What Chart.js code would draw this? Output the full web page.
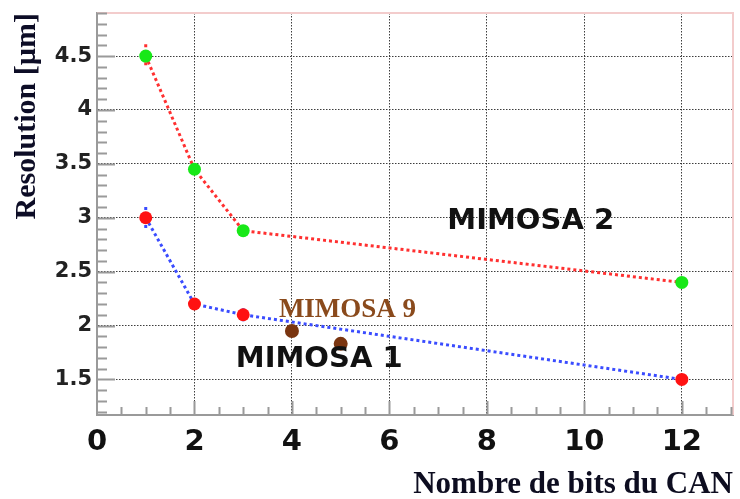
<!DOCTYPE html>
<html>
<head>
<meta charset="utf-8">
<script src="https://cdn.jsdelivr.net/npm/chart.js@4/dist/chart.umd.min.js"></script>
<style>
  html, body { margin: 0; padding: 0; background: #ffffff; }
  canvas { display: block; }
</style>
</head>
<body>
<canvas id="chart" width="740" height="499"></canvas>
<script>
// Spatial resolution versus ADC bit count
const bitsMimosa2 = [1, 2, 3, 12];
const resMimosa2  = [4.5, 3.45, 2.88, 2.4];
const errMimosa2  = [0.11, 0, 0.05, 0];

const bitsMimosa1 = [1, 2, 3, 12];
const resMimosa1  = [3.0, 2.2, 2.1, 1.5];
const errMimosa1  = [0.1, 0, 0.06, 0];

const bitsMimosa9 = [4, 5];
const resMimosa9  = [1.95, 1.83];

const seriesNames = ['MIMOSA 2', 'MIMOSA 1', 'MIMOSA 9'];

const xTickValues = [0, 2, 4, 6, 8, 10, 12];
const yTickValues = [1.5, 2, 2.5, 3, 3.5, 4, 4.5];

const xTitle = 'Nombre de bits du CAN';
const yTitle = 'Resolution [µm]';

// Text labels placed in data coordinates
const labelPlacement = [
  { name: seriesNames[0], x: 8.9,  y: 2.895, font: 'bold 29px "DejaVu Sans"', color: '#111111' },
  { name: seriesNames[1], x: 4.56, y: 1.62,  font: 'bold 29px "DejaVu Sans"', color: '#111111' },
  { name: seriesNames[2], x: 5.14, y: 2.08,  font: 'bold 27px "Liberation Serif"', color: '#8a4a1c' }
];

const toPoints = (xs, ys) => xs.map((x, i) => ({ x: x, y: ys[i] }));

const errorSets = [
  { xs: bitsMimosa2, ys: resMimosa2, errs: errMimosa2, color: '#ff3030' },
  { xs: bitsMimosa1, ys: resMimosa1, errs: errMimosa1, color: '#3a4cff' }
];

const decorations = {
  id: 'decorations',
  beforeDatasetsDraw(chart) {
    const ctx = chart.ctx;
    const area = chart.chartArea;
    const xs = chart.scales.x;
    const ys = chart.scales.y;
    ctx.save();

    // frame on top and right
    ctx.strokeStyle = '#f3cccc';
    ctx.lineWidth = 2;
    ctx.beginPath();
    ctx.moveTo(area.left, area.top);
    ctx.lineTo(area.right, area.top);
    ctx.lineTo(area.right, area.bottom);
    ctx.stroke();

    // inward tick marks
    ctx.strokeStyle = '#9a9a9a';
    ctx.lineWidth = 2;
    ctx.beginPath();
    for (let i = 12; i <= 49; i++) {
      const p = Math.round(ys.getPixelForValue(i / 10)) + 0.5;
      const len = (i % 5 === 0) ? 18 : 10;
      ctx.moveTo(area.left, p);
      ctx.lineTo(area.left + len, p);
    }
    for (let i = 1; i <= 26; i++) {
      const p = Math.round(xs.getPixelForValue(i / 2)) + 0.5;
      const len = (i % 4 === 0) ? 14 : 8;
      ctx.moveTo(p, area.bottom);
      ctx.lineTo(p, area.bottom - len);
    }
    ctx.stroke();

    // error bars
    ctx.lineWidth = 3;
    ctx.setLineDash([3, 3]);
    errorSets.forEach(set => {
      ctx.strokeStyle = set.color;
      set.errs.forEach((e, i) => {
        if (!e) return;
        const px = xs.getPixelForValue(set.xs[i]);
        ctx.beginPath();
        ctx.moveTo(px, ys.getPixelForValue(set.ys[i] + e));
        ctx.lineTo(px, ys.getPixelForValue(set.ys[i] - e));
        ctx.stroke();
      });
    });
    ctx.restore();
  },
  afterDatasetsDraw(chart) {
    const ctx = chart.ctx;
    const xs = chart.scales.x;
    const ys = chart.scales.y;
    ctx.save();
    ctx.textAlign = 'center';
    ctx.textBaseline = 'alphabetic';
    labelPlacement.forEach(l => {
      ctx.font = l.font;
      ctx.fillStyle = l.color;
      ctx.fillText(l.name, xs.getPixelForValue(l.x), ys.getPixelForValue(l.y));
    });
    ctx.restore();
  }
};

const gridStyle = { color: 'rgba(40,40,40,0.9)', lineWidth: 1, drawTicks: false };
const borderStyle = { display: true, color: '#9a9a9a', width: 2, dash: [1.5, 1.5] };

new Chart(document.getElementById('chart'), {
  type: 'scatter',
  data: {
    datasets: [
      {
        label: seriesNames[0],
        data: toPoints(bitsMimosa2, resMimosa2),
        showLine: true,
        borderColor: '#ff3030',
        borderWidth: 3,
        borderDash: [3, 3],
        pointBackgroundColor: '#18e818',
        pointBorderColor: '#18e818',
        pointBorderWidth: 0,
        pointRadius: 6.5
      },
      {
        label: seriesNames[1],
        data: toPoints(bitsMimosa1, resMimosa1),
        showLine: true,
        borderColor: '#3a4cff',
        borderWidth: 3,
        borderDash: [3, 3],
        pointBackgroundColor: '#ff1212',
        pointBorderColor: '#ff1212',
        pointBorderWidth: 0,
        pointRadius: 6.5
      },
      {
        label: seriesNames[2],
        data: toPoints(bitsMimosa9, resMimosa9),
        showLine: false,
        pointBackgroundColor: '#7a3510',
        pointBorderColor: '#7a3510',
        pointBorderWidth: 0,
        pointRadius: 7
      }
    ]
  },
  options: {
    responsive: false,
    animation: false,
    devicePixelRatio: 1,
    layout: { padding: { top: 13, right: 4, left: 0, bottom: 0 } },
    plugins: { legend: { display: false }, tooltip: { enabled: false } },
    scales: {
      x: {
        type: 'linear',
        min: 0,
        max: 13.05,
        grid: gridStyle,
        border: borderStyle,
        afterBuildTicks: s => { s.ticks = xTickValues.map(v => ({ value: v })); },
        afterFit: s => { s.height = 84; s.paddingLeft = 0; s.paddingRight = 0; },
        ticks: {
          padding: 10,
          color: '#111111',
          font: { family: 'DejaVu Sans', weight: 'bold', size: 29, lineHeight: 1.2 },
          callback: v => String(v),
          maxRotation: 0
        },
        title: {
          display: true,
          text: xTitle,
          align: 'end',
          color: '#0d0d20',
          padding: 0,
          font: { family: 'Liberation Serif', weight: 'bold', size: 31, lineHeight: 0.9 }
        }
      },
      y: {
        type: 'linear',
        min: 1.17,
        max: 4.9,
        grid: gridStyle,
        border: borderStyle,
        afterBuildTicks: s => { s.ticks = yTickValues.map(v => ({ value: v })); },
        afterFit: s => { s.width = 97; s.paddingTop = 0; s.paddingBottom = 0; },
        ticks: {
          padding: 5,
          color: '#222222',
          font: { family: 'DejaVu Sans', weight: 'bold', size: 21, lineHeight: 1.2 },
          callback: v => String(v)
        },
        title: {
          display: true,
          text: yTitle,
          align: 'end',
          color: '#0d0d26',
          padding: { top: 12, bottom: 0 },
          font: { family: 'Liberation Serif', weight: 'bold', size: 30, lineHeight: 1 }
        }
      }
    }
  },
  plugins: [decorations]
});
</script>
</body>
</html>
